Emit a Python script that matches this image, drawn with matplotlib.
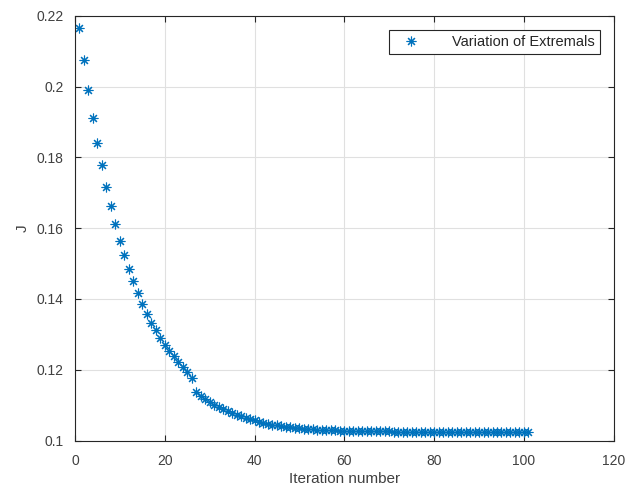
import numpy as np
import matplotlib.pyplot as plt

plt.rcParams['font.family'] = ['Liberation Sans', 'DejaVu Sans']

iteracion = np.arange(1, 102)
J = [0.2165, 0.2074, 0.1990, 0.1912, 0.1840, 0.1778, 0.1717, 0.1664, 0.1612, 0.1565,
     0.1524, 0.1485, 0.1450, 0.1418, 0.1386, 0.1357, 0.1332, 0.1311, 0.1289, 0.1269,
     0.1253, 0.1238, 0.1223, 0.1208, 0.1193, 0.1177, 0.1137, 0.1127, 0.1116, 0.1108,
     0.1101, 0.1094, 0.1089, 0.1083, 0.1078, 0.1073, 0.1068, 0.1064, 0.1060, 0.1057,
     0.1053, 0.1050, 0.1047, 0.1045, 0.1043, 0.1041, 0.1039, 0.1037, 0.1036, 0.1035,
     0.1034, 0.1033, 0.1032, 0.1031, 0.1030, 0.1030, 0.1029, 0.1029, 0.1028, 0.1028,
     0.1028, 0.1027, 0.1027, 0.1027, 0.1027, 0.1027, 0.1026, 0.1026, 0.1026, 0.1026,
     0.1024, 0.1023, 0.1023, 0.1023, 0.1023, 0.1023, 0.1023, 0.1023, 0.1023, 0.1023,
     0.1023, 0.1023, 0.1023, 0.1023, 0.1023, 0.1023, 0.1023, 0.1023, 0.1023, 0.1023,
     0.1023, 0.1023, 0.1023, 0.1023, 0.1023, 0.1023, 0.1023, 0.1023, 0.1023, 0.1023,
     0.1023]

gris = '#262626'

fig = plt.figure(figsize=(6.4, 4.95), dpi=100)
ax = fig.add_axes([0.117, 0.110, 0.842, 0.858])

# asterisco estilo MATLAB (8 brazos)
ax.plot(iteracion, J, linestyle='none', marker=(8, 2, 0), color='#0072BD',
        markersize=7, markeredgewidth=0.8, label='Variation of Extremals')

ax.set_xlim(0, 120)
ax.set_ylim(0.1, 0.22)
ax.set_xticks(range(0, 121, 20))
ax.set_yticks([0.1, 0.12, 0.14, 0.16, 0.18, 0.2, 0.22])
ax.set_yticklabels(['0.1', '0.12', '0.14', '0.16', '0.18', '0.2', '0.22'])
ax.grid(True, color='#e0e0e0', linewidth=0.8)
ax.set_axisbelow(True)
ax.tick_params(direction='in', colors=gris, labelsize=10, length=4, top=True, right=True,
               labeltop=False, labelright=False)
ax.tick_params(axis='x', pad=9.5)
ax.tick_params(axis='y', pad=8)
for t in ax.get_xticklabels() + ax.get_yticklabels():
    t.set_color('#404040')
for s in ax.spines.values():
    s.set_color(gris)
    s.set_linewidth(0.8)

ax.set_xlabel('Iteration number', fontsize=11, color='#404040', labelpad=3)
ax.set_ylabel('J', fontsize=11, color='#404040', labelpad=5)

leg = ax.legend(loc='upper right', fontsize=10.5, fancybox=False, framealpha=1,
                edgecolor=gris, borderaxespad=0.95, handletextpad=1.6, handlelength=2.4,
                borderpad=0.35)
leg.get_frame().set_linewidth(0.8)
for t in leg.get_texts():
    t.set_color(gris)

plt.savefig('out.png', dpi=100)
